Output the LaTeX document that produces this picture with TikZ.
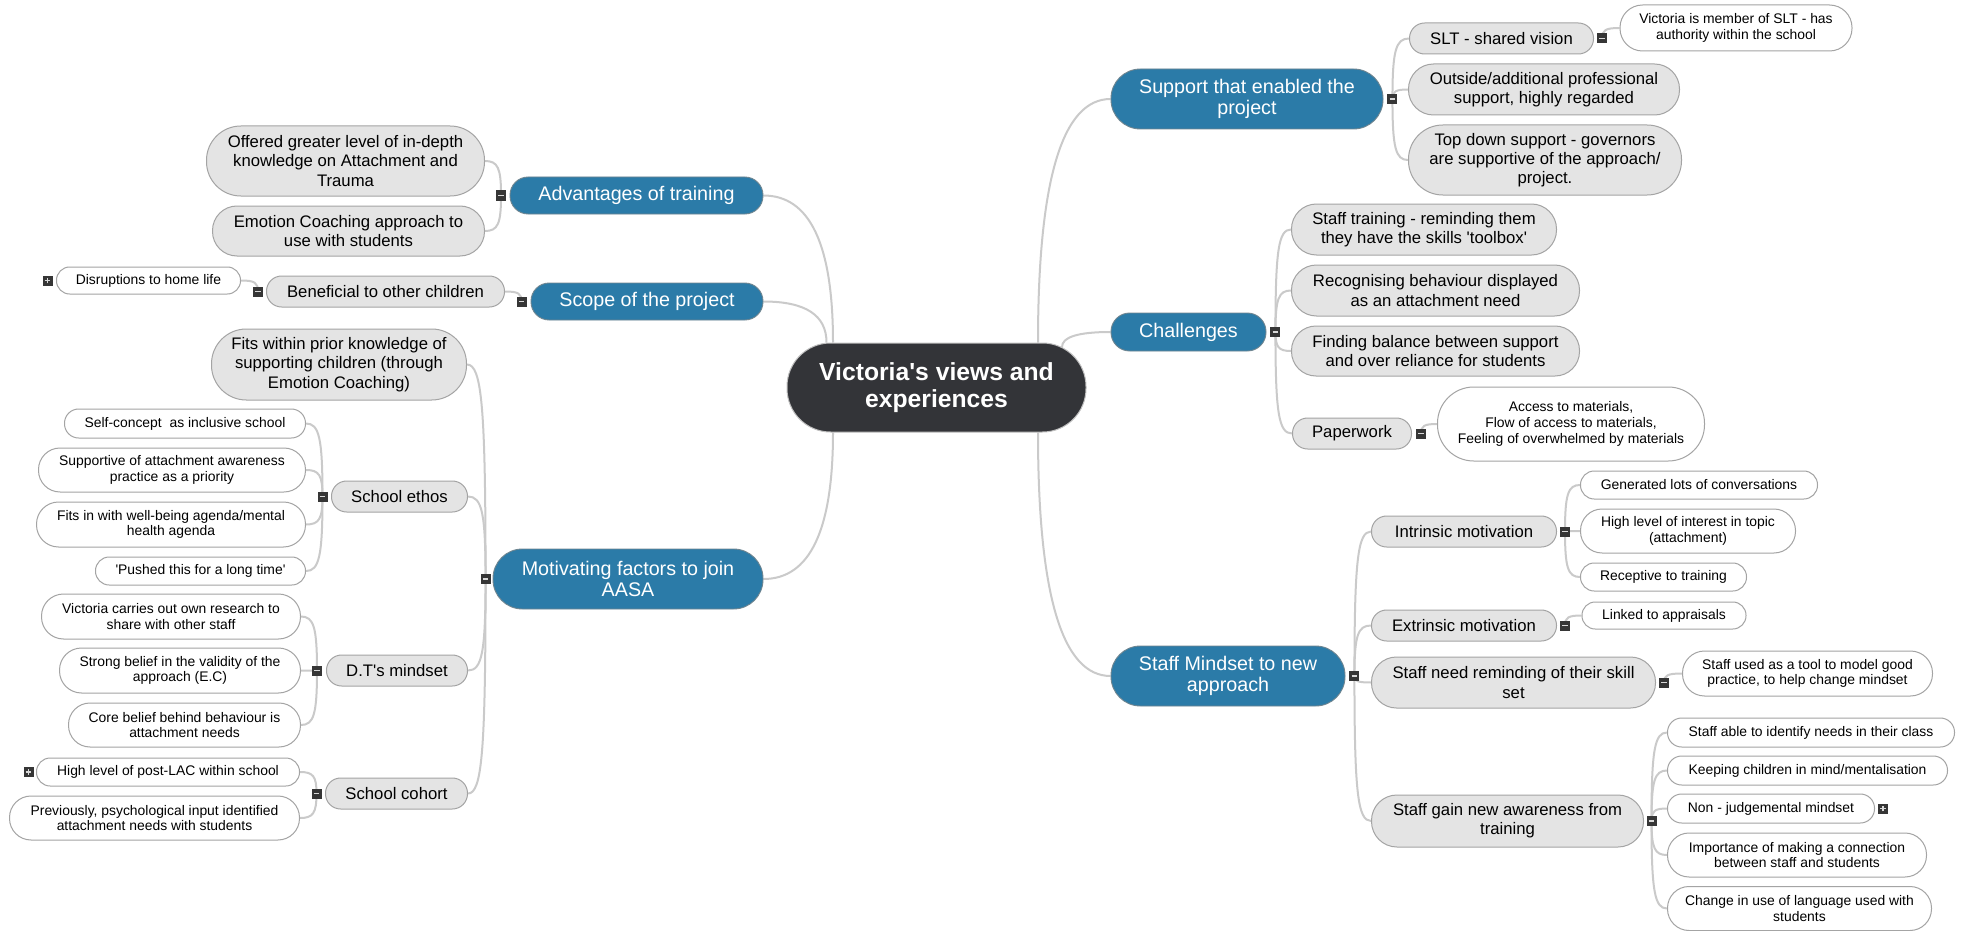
\documentclass[tikz,border=0pt]{standalone}
\usepackage{fontspec}
\setmainfont{Liberation Sans}
\usetikzlibrary{calc,backgrounds}

\definecolor{hub}{HTML}{333438}
\definecolor{topicblue}{HTML}{2B7BA8}
\definecolor{topicrim}{HTML}{6F8590}
\definecolor{subgray}{HTML}{E4E4E4}
\definecolor{rimgray}{HTML}{A4A4A4}
\definecolor{wiregray}{HTML}{CACACA}
\definecolor{boxdark}{HTML}{363636}

\newcommand{\sq}{\textquotesingle}

\tikzset{
  pill/.style 2 args={minimum width=#1pt, minimum height=#2pt,
    rounded corners=0.49*#2pt, inner sep=0pt, align=center},
  hubnode/.style 2 args={pill={#1}{#2}, fill=hub, draw=black!25, line width=1pt,
    text=white, font=\fontsize{24.7}{27.3}\selectfont\bfseries},
  topic/.style 2 args={pill={#1}{#2}, fill=topicblue, draw=topicrim, line width=0.9pt,
    text=white, font=\fontsize{19.7}{21.5}\selectfont},
  sub/.style 2 args={pill={#1}{#2}, fill=subgray, draw=rimgray, line width=1pt,
    text=black, font=\fontsize{16.7}{19.2}\selectfont},
  leaf/.style 2 args={pill={#1}{#2}, fill=white, draw=rimgray, line width=1pt,
    text=black, font=\fontsize{13.9}{15.7}\selectfont},
  togglebox/.style={rectangle, fill=boxdark, minimum size=10pt, inner sep=0pt},
  minusbox/.style={togglebox, path picture={
    \draw[white!85!black, line width=1.6pt]
      ([xshift=-2.8pt]path picture bounding box.center) --
      ([xshift=2.8pt]path picture bounding box.center);}},
  plusbox/.style={togglebox, path picture={
    \draw[white!85!black, line width=1.5pt]
      ([xshift=-2.8pt]path picture bounding box.center) --
      ([xshift=2.8pt]path picture bounding box.center)
      ([yshift=-2.8pt]path picture bounding box.center) --
      ([yshift=2.8pt]path picture bounding box.center);}},
  wire/.style={draw=wiregray, line width=2pt},
  trunk/.style={to path={
    .. controls ($(\tikztostart)!0.667!(\tikztostart |- \tikztotarget)$)
    and ($(\tikztotarget)!0.667!(\tikztostart |- \tikztotarget)$) .. (\tikztotarget) \tikztonodes}},
  branch/.style={to path={
    .. controls ($(\tikztostart)!0.8!(\tikztostart |- \tikztotarget)$)
    and ($(\tikztotarget)!0.8!(\tikztostart |- \tikztotarget)$) .. (\tikztotarget) \tikztonodes}},
}

\begin{document}
\begin{tikzpicture}[x=1pt, y=-1pt]
\useasboundingbox (0,0) rectangle (1966,931);

% central topic
\node[hubnode={299}{89}] (C) at (936.5,387.5) {Victoria\sq s views and\\experiences};

% main branches
\node[topic={253}{37}] (adv)   at (636.5,195.5) {Advantages of training};
\node[topic={232}{37}] (scope) at (647,301.5)   {Scope of the project};
\node[topic={270}{60}] (motiv) at (628,579)     {Motivating factors to join\\AASA};
\node[topic={272}{60}] (supp)  at (1247,99)     {Support that enabled the\\project};
\node[topic={155}{38}] (chal)  at (1188.5,332)  {Challenges};
\node[topic={234}{60}] (mind)  at (1228,676)    {Staff Mindset to new\\approach};

% left side, second level
\node[sub={278}{70}, anchor=east] (off)   at (485,161)   {Offered greater level of in-depth\\knowledge on Attachment and\\Trauma};
\node[sub={272}{50}, anchor=east] (emo)   at (485,231)   {Emotion Coaching approach to\\use with students};
\node[sub={238}{31}, anchor=east] (ben)   at (505,291.5) {Beneficial to other children};
\node[sub={255}{71}, anchor=east] (fits)  at (467,364.5) {Fits within prior knowledge of\\supporting children (through\\Emotion Coaching)};
\node[sub={136}{31}, anchor=east] (eth)   at (468,496.5) {School ethos};
\node[sub={141}{31}, anchor=east] (dt)    at (468,670.5) {D.T\sq s mindset};
\node[sub={142}{31}, anchor=east] (coh)   at (468,793.5) {School cohort};

% left side, leaves
\node[leaf={184}{27}, anchor=east] (dis)    at (241,280.5) {Disruptions to home life};
\node[leaf={241}{29}, anchor=east] (self)   at (306,423.5) {Self-concept\ \ as inclusive school};
\node[leaf={267}{44}, anchor=east] (supa)   at (306,470)   {Supportive of attachment awareness\\practice as a priority};
\node[leaf={269}{45}, anchor=east] (well)   at (306,524.5) {Fits in with well-being agenda/mental\\health agenda};
\node[leaf={210}{28}, anchor=east] (push)   at (306,571)   {\sq Pushed this for a long time\sq};
\node[leaf={259}{45}, anchor=east] (vres)   at (301,616.5) {Victoria carries out own research to\\share with other staff};
\node[leaf={241}{45}, anchor=east] (strong) at (301,670.5) {Strong belief in the validity of the\\approach (E.C)};
\node[leaf={232}{44}, anchor=east] (core)   at (301,725)   {Core belief behind behaviour is\\attachment needs};
\node[leaf={263}{28}, anchor=east] (lac)    at (300,772)   {High level of post-LAC within school};
\node[leaf={290}{44}, anchor=east] (prev)   at (300,818)   {Previously, psychological input identified\\attachment needs with students};

% right side, second level
\node[sub={184}{31}, anchor=west] (slt)     at (1409,38.5)  {SLT - shared vision};
\node[sub={271}{51}, anchor=west] (outside) at (1408,89.5)  {Outside/additional professional\\support, highly regarded};
\node[sub={273}{70}, anchor=west] (govern)  at (1408,160)   {Top down support - governors\\are supportive of the approach/\\project.};
\node[sub={265}{51}, anchor=west] (train)   at (1291,229.5) {Staff training - reminding them\\they have the skills \sq toolbox\sq};
\node[sub={288}{51}, anchor=west] (recog)   at (1291,290.5) {Recognising behaviour displayed\\as an attachment need};
\node[sub={288}{50}, anchor=west] (balance) at (1291,351)   {Finding balance between support\\and over reliance for students};
\node[sub={119}{31}, anchor=west] (pap)     at (1292,433.5) {Paperwork};
\node[sub={185}{31}, anchor=west] (intr)    at (1371,531.5) {Intrinsic motivation};
\node[sub={185}{31}, anchor=west] (extr)    at (1371,625.5) {Extrinsic motivation};
\node[sub={284}{51}, anchor=west] (need)    at (1371,682.5) {Staff need reminding of their skill\\set};
\node[sub={272}{52}, anchor=west] (gain)    at (1371,821)   {Staff gain new awareness from\\training};

% right side, leaves
\node[leaf={232}{46}, anchor=west] (vic)     at (1619.5,28)  {Victoria is member of SLT - has\\authority within the school};
\node[leaf={267}{74}, anchor=west] (acc)     at (1437,424)   {Access to materials,\\Flow of access to materials,\\Feeling of overwhelmed by materials};
\node[leaf={237}{28}, anchor=west] (gen)     at (1580,485)   {Generated lots of conversations};
\node[leaf={215}{44}, anchor=west] (high)    at (1580,531)   {High level of interest in topic\\(attachment)};
\node[leaf={166}{28}, anchor=west] (rec)     at (1580,577)   {Receptive to training};
\node[leaf={164}{27}, anchor=west] (apprais) at (1581.5,615.5) {Linked to appraisals};
\node[leaf={250}{45}, anchor=west] (used)    at (1682,673.5) {Staff used as a tool to model good\\practice, to help change mindset};
\node[leaf={287}{29}, anchor=west] (able)    at (1667,732.5) {Staff able to identify needs in their class};
\node[leaf={280}{29}, anchor=west] (keep)    at (1667,770.5) {Keeping children in mind/mentalisation};
\node[leaf={207}{29}, anchor=west] (non)     at (1667,808.5) {Non - judgemental mindset};
\node[leaf={259}{44}, anchor=west] (imp)     at (1667,855)   {Importance of making a connection\\between staff and students};
\node[leaf={264}{44}, anchor=west] (chg)     at (1667,908.5) {Change in use of language used with\\students};

% collapse / expand toggles
\node[minusbox] (advB)   at ([xshift=-8.5pt]adv.west)  {};
\node[minusbox] (scopeB) at ([xshift=-9pt]scope.west)  {};
\node[minusbox] (benB)   at ([xshift=-8pt]ben.west)    {};
\node[plusbox]  (disP)   at ([xshift=-8.5pt]dis.west)  {};
\node[minusbox] (motB)   at ([xshift=-7pt]motiv.west)  {};
\node[minusbox] (ethB)   at ([xshift=-8.5pt]eth.west)  {};
\node[minusbox] (dtB)    at ([xshift=-9pt]dt.west)     {};
\node[minusbox] (cohB)   at ([xshift=-8.5pt]coh.west)  {};
\node[plusbox]  (lacP)   at ([xshift=-7.5pt]lac.west)  {};
\node[minusbox] (suppB)  at ([xshift=9pt]supp.east)    {};
\node[minusbox] (sltB)   at ([xshift=8pt]slt.east)     {};
\node[minusbox] (chalB)  at ([xshift=9pt]chal.east)    {};
\node[minusbox] (papB)   at ([xshift=9pt]pap.east)     {};
\node[minusbox] (mindB)  at ([xshift=9pt]mind.east)    {};
\node[minusbox] (intB)   at ([xshift=8pt]intr.east)    {};
\node[minusbox] (extB)   at ([xshift=8pt]extr.east)    {};
\node[minusbox] (needB)  at ([xshift=8pt]need.east)    {};
\node[minusbox] (gainB)  at ([xshift=7.5pt]gain.east)  {};
\node[plusbox]  (nonP)   at ([xshift=8pt]non.east)     {};

% attachment points on the central topic
\coordinate (cA) at ([xshift=-103.5pt]C.north);
\coordinate (cS) at ([xshift=-110pt]C.north);
\coordinate (cM) at ([xshift=-103.5pt]C.south);
\coordinate (cU) at ([xshift=101.5pt]C.north);
\coordinate (cH) at ([xshift=125.5pt,yshift=40.5pt]C.center);
\coordinate (cN) at ([xshift=101.5pt]C.south);

\begin{scope}[on background layer]
  % white page underneath everything
  \fill[white] (0,0) rectangle (1966,931);

  % central topic to main branches
  \draw[wire] (cA) to[trunk] (adv.east);
  \draw[wire] (cS) to[trunk] (scope.east);
  \draw[wire] (cM) to[trunk] (motiv.east);
  \draw[wire] (cU) to[trunk] (supp.west);
  \draw[wire] (cH) to[trunk] (chal.west);
  \draw[wire] (cN) to[trunk] (mind.west);

  % left side
  \draw[wire] (advB.center) to[branch] (off.east);
  \draw[wire] (advB.center) to[branch] (emo.east);
  \draw[wire] (scopeB.center) to[branch] (ben.east);
  \draw[wire] (benB.center) to[branch] (dis.east);
  \foreach \t in {fits,eth,dt,coh} \draw[wire] (motB.center) to[branch] (\t.east);
  \foreach \t in {self,supa,well,push} \draw[wire] (ethB.center) to[branch] (\t.east);
  \foreach \t in {vres,strong,core} \draw[wire] (dtB.center) to[branch] (\t.east);
  \foreach \t in {lac,prev} \draw[wire] (cohB.center) to[branch] (\t.east);

  % right side
  \foreach \t in {slt,outside,govern} \draw[wire] (suppB.center) to[branch] (\t.west);
  \draw[wire] (sltB.center) to[branch] (vic.west);
  \foreach \t in {train,recog,balance,pap} \draw[wire] (chalB.center) to[branch] (\t.west);
  \draw[wire] (papB.center) to[branch] (acc.west);
  \foreach \t in {intr,extr,need,gain} \draw[wire] (mindB.center) to[branch] (\t.west);
  \foreach \t in {gen,high,rec} \draw[wire] (intB.center) to[branch] (\t.west);
  \draw[wire] (extB.center) to[branch] (apprais.west);
  \draw[wire] (needB.center) to[branch] (used.west);
  \foreach \t in {able,keep,non,imp,chg} \draw[wire] (gainB.center) to[branch] (\t.west);
\end{scope}
\end{tikzpicture}
\end{document}
